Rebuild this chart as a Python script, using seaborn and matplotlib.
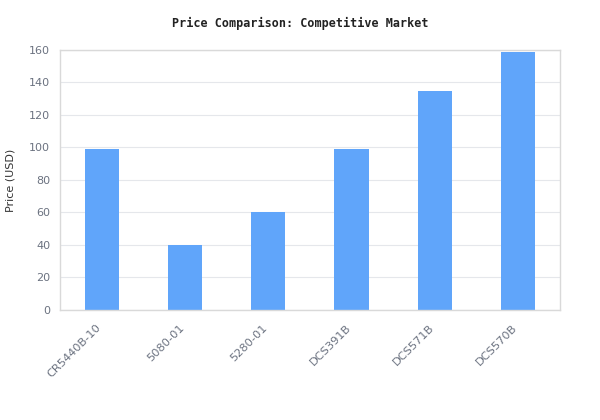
import matplotlib
matplotlib.use("Agg")
import matplotlib.pyplot as plt
import matplotlib.transforms as mtransforms
import seaborn as sns
import pandas as pd

products = ["CR5440B-10", "5080-01", "5280-01", "DCS391B", "DCS571B", "DCS570B"]
prices = [99, 40, 60, 99, 135, 159]

sns.set_theme(style="white")
plt.rcParams['font.family'] = ['DejaVu Sans']

df = pd.DataFrame({"product": products, "price": prices})

fig = plt.figure(figsize=(6, 4.2), dpi=100)
ax = fig.add_axes([0.1, 0.262, 0.833, 0.619])
sns.barplot(data=df, x="product", y="price", color="#60A5FA", width=0.41,
            saturation=1, linewidth=0, ax=ax, zorder=2)

ax.set_xlim(-0.5, 5.5)
ax.set_ylim(0, 160)
ax.set_yticks(range(0, 161, 20))
ax.yaxis.grid(True, color="#e5e7eb", linewidth=0.8, zorder=0)
ax.set_axisbelow(True)
for s in ax.spines.values():
    s.set_color("#d9d9d9")
    s.set_linewidth(1)
ax.tick_params(axis="y", colors="#6b7280", labelsize=8, length=0, pad=7)
ax.tick_params(axis="x", colors="#6b7280", labelsize=8.2, length=0, pad=4)
offset = mtransforms.ScaledTranslation(-0.06, -0.07, fig.dpi_scale_trans)
for lbl in ax.get_xticklabels():
    lbl.set_rotation(45)
    lbl.set_ha("right")
    lbl.set_rotation_mode("anchor")
    lbl.set_transform(lbl.get_transform() + offset)
ax.set_xlabel("")
ax.set_ylabel("Price (USD)", fontsize=8, color="#333333", labelpad=10)
fig.suptitle("Price Comparison: Competitive Market", x=0.5, y=0.96,
             fontsize=8.5, fontweight="bold", family="DejaVu Sans Mono", color="#222222")

fig.savefig("out.png", dpi=100)
